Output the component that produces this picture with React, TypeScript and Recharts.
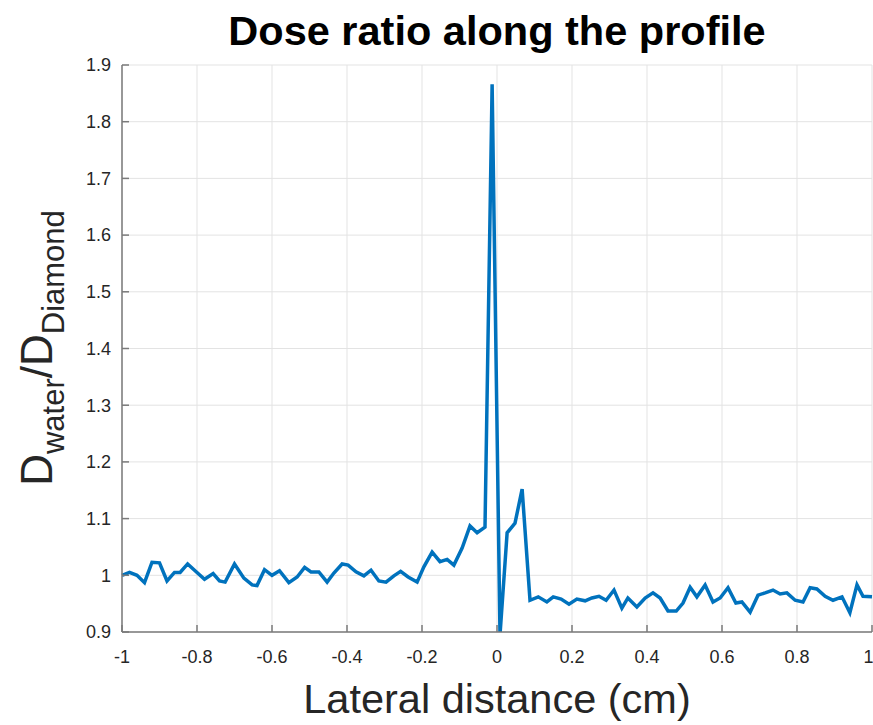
import { LineChart, Line, XAxis, YAxis, CartesianGrid } from 'recharts';

// lateral position (cm)
const lateral = [
    -1.0, -0.98, -0.96, -0.94, -0.92, -0.9, -0.88, -0.86, -0.845, -0.825,
    -0.8, -0.78, -0.757, -0.74, -0.725, -0.7, -0.675, -0.653, -0.64, -0.62,
    -0.6, -0.58, -0.555, -0.533, -0.513, -0.496, -0.475, -0.453, -0.435, -0.413,
    -0.397, -0.376, -0.355, -0.336, -0.315, -0.296, -0.275, -0.257, -0.237, -0.213,
    -0.195, -0.173, -0.152, -0.133, -0.115, -0.093, -0.072, -0.053, -0.032, -0.013,
    0.008, 0.027, 0.048, 0.067, 0.088, 0.11, 0.133, 0.15, 0.171, 0.192,
    0.213, 0.235, 0.253, 0.272, 0.291, 0.312, 0.333, 0.349, 0.373, 0.395,
    0.416, 0.435, 0.456, 0.478, 0.496, 0.515, 0.533, 0.555, 0.576, 0.595,
    0.616, 0.637, 0.653, 0.675, 0.696, 0.715, 0.736, 0.755, 0.773, 0.795,
    0.816, 0.835, 0.853, 0.875, 0.896, 0.92, 0.941, 0.96, 0.976, 1.0,
];

// D_water / D_Diamond
const doseRatio = [
    1.0, 1.005, 1.0, 0.987, 1.023, 1.022, 0.99, 1.005, 1.005, 1.02,
    1.005, 0.993, 1.003, 0.99, 0.988, 1.02, 0.995, 0.983, 0.982, 1.01,
    1.0, 1.008, 0.987, 0.997, 1.014, 1.006, 1.006, 0.988, 1.004, 1.02,
    1.018, 1.006, 0.999, 1.009, 0.99, 0.988, 0.999, 1.007, 0.997, 0.988,
    1.015, 1.041, 1.024, 1.028, 1.018, 1.048, 1.087, 1.075, 1.085, 1.866,
    0.895, 1.075, 1.092, 1.152, 0.956, 0.962, 0.953, 0.962, 0.958, 0.949,
    0.958, 0.955, 0.96, 0.963, 0.956, 0.974, 0.942, 0.96, 0.944, 0.96,
    0.969, 0.96, 0.937, 0.937, 0.951, 0.979, 0.962, 0.983, 0.953, 0.96,
    0.978, 0.951, 0.953, 0.935, 0.965, 0.969, 0.974, 0.967, 0.969, 0.956,
    0.953, 0.978, 0.976, 0.963, 0.956, 0.962, 0.934, 0.983, 0.963, 0.962,
];

const xTicks = [-1, -0.8, -0.6, -0.4, -0.2, 0, 0.2, 0.4, 0.6, 0.8, 1];
const yTicks = [0.9, 1, 1.1, 1.2, 1.3, 1.4, 1.5, 1.6, 1.7, 1.8, 1.9];

const FONT = '"Liberation Sans", Arial, Helvetica, sans-serif';
const AXIS_COLOR = '#7a7a7a';
const TEXT_COLOR = '#262626';

export default function App() {
    const data = lateral.map((x, i) => ({ x, ratio: doseRatio[i] }));

    return (
        <div style={{ position: 'absolute', left: 0, top: 0, width: 873, height: 725, background: '#fff', fontFamily: FONT }}>
            <div
                style={{
                    position: 'absolute',
                    left: 0,
                    top: 7,
                    width: 994,
                    textAlign: 'center',
                    fontSize: 41.5,
                    fontWeight: 'bold',
                    color: '#000',
                    lineHeight: '48px',
                }}
            >
                Dose ratio along the profile
            </div>

            {/* y label, rotated, with subscripts */}
            <div
                style={{
                    position: 'absolute',
                    left: 37 - 170,
                    top: 348 - 30,
                    width: 340,
                    height: 60,
                    lineHeight: '60px',
                    textAlign: 'center',
                    transform: 'rotate(-90deg)',
                    fontSize: 44,
                    color: TEXT_COLOR,
                    whiteSpace: 'nowrap',
                }}
            >
                D<span style={{ fontSize: 31, position: 'relative', top: 12 }}>water</span>/D
                <span style={{ fontSize: 31, position: 'relative', top: 12 }}>Diamond</span>
            </div>

            <LineChart
                width={873}
                height={725}
                data={data}
                margin={{ top: 65, right: 1, left: 0, bottom: 0 }}
                style={{ position: 'absolute', left: 0, top: 0 }}
            >
                <CartesianGrid stroke="#e3e3e3" strokeWidth={1} />
                <XAxis
                    dataKey="x"
                    type="number"
                    domain={[-1, 1]}
                    ticks={xTicks}
                    height={93}
                    tickSize={-7}
                    tickMargin={25}
                    axisLine={{ stroke: AXIS_COLOR, strokeWidth: 1.5 }}
                    tickLine={{ stroke: AXIS_COLOR, strokeWidth: 1.5 }}
                    tick={{ fill: TEXT_COLOR, fontSize: 18, fontFamily: FONT }}
                    label={{
                        value: 'Lateral distance (cm)',
                        position: 'insideBottom',
                        offset: 12,
                        fill: TEXT_COLOR,
                        fontSize: 41.5,
                        fontFamily: FONT,
                    }}
                />
                <XAxis
                    xAxisId="top"
                    dataKey="x"
                    type="number"
                    orientation="top"
                    domain={[-1, 1]}
                    ticks={xTicks}
                    height={0}
                    tickSize={-7}
                    tick={false}
                    axisLine={{ stroke: AXIS_COLOR, strokeWidth: 1.5 }}
                    tickLine={{ stroke: AXIS_COLOR, strokeWidth: 1.5 }}
                />
                <YAxis
                    type="number"
                    domain={[0.9, 1.9]}
                    ticks={yTicks}
                    allowDataOverflow
                    width={122}
                    tickSize={-7}
                    tickMargin={18}
                    axisLine={{ stroke: AXIS_COLOR, strokeWidth: 1.5 }}
                    tickLine={{ stroke: AXIS_COLOR, strokeWidth: 1.5 }}
                    tick={{ fill: TEXT_COLOR, fontSize: 18, fontFamily: FONT }}
                />
                <YAxis
                    yAxisId="right"
                    orientation="right"
                    type="number"
                    domain={[0.9, 1.9]}
                    ticks={yTicks}
                    width={0}
                    tickSize={-7}
                    tick={false}
                    axisLine={{ stroke: AXIS_COLOR, strokeWidth: 1.5 }}
                    tickLine={{ stroke: AXIS_COLOR, strokeWidth: 1.5 }}
                />
                <Line
                    type="linear"
                    dataKey="ratio"
                    stroke="#0072BD"
                    strokeWidth={3.5}
                    dot={false}
                    isAnimationActive={false}
                />
            </LineChart>
        </div>
    );
}
